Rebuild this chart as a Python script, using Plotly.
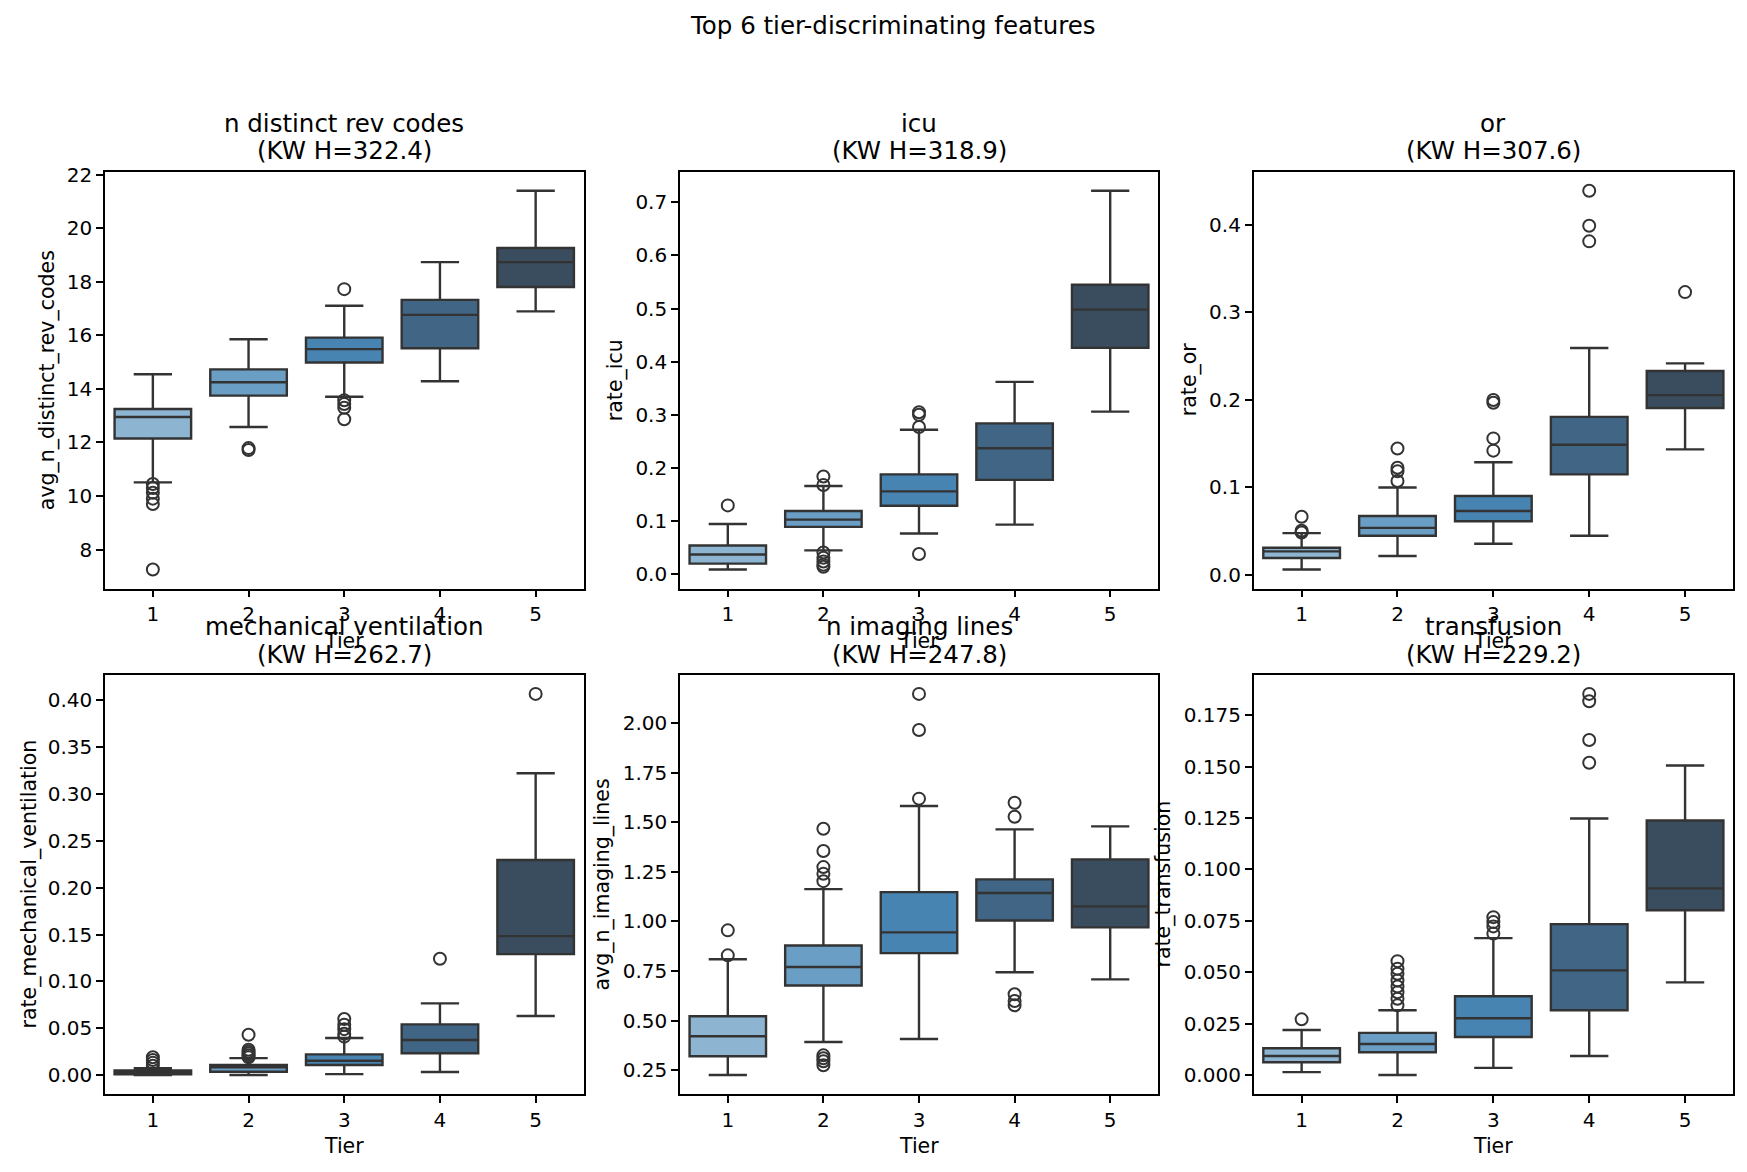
import plotly.graph_objects as go

W, H = 1747, 1172

tiers = [1, 2, 3, 4, 5]
tier_colors = ["#8db4d0", "#6a9ec4", "#4884b2", "#416685", "#3a4d5e"]

features = ["n distinct rev codes", "icu", "or", "mechanical ventilation", "n imaging lines", "transfusion"]
kw_h = [322.4, 318.9, 307.6, 262.7, 247.8, 229.2]
y_labels = ["avg_n_distinct_rev_codes", "rate_icu", "rate_or",
            "rate_mechanical_ventilation", "avg_n_imaging_lines", "rate_transfusion"]

# --- n distinct rev codes ---
rev_lower = [10.51, 12.58, 13.71, 14.29, 16.90]
rev_q1 = [12.15, 13.75, 14.99, 15.52, 17.81]
rev_med = [12.95, 14.25, 15.49, 16.77, 18.74]
rev_q3 = [13.25, 14.73, 15.92, 17.33, 19.27]
rev_upper = [14.55, 15.86, 17.11, 18.74, 21.41]
rev_out = [[10.45, 10.3, 10.12, 9.9, 9.7, 7.25], [11.79, 11.72],
           [17.73, 13.58, 13.44, 13.3, 12.87], [], []]

# --- icu ---
icu_lower = [0.0087, 0.0448, 0.0766, 0.0934, 0.306]
icu_q1 = [0.0199, 0.089, 0.1289, 0.1775, 0.426]
icu_med = [0.037, 0.1027, 0.156, 0.237, 0.498]
icu_q3 = [0.054, 0.119, 0.188, 0.284, 0.545]
icu_upper = [0.0946, 0.166, 0.272, 0.362, 0.722]
icu_out = [[0.1295], [0.184, 0.168, 0.041, 0.031, 0.024, 0.018, 0.014],
           [0.305, 0.300, 0.277, 0.038], [], []]

# --- or ---
or_lower = [0.0057, 0.0212, 0.0352, 0.0443, 0.1431]
or_q1 = [0.0189, 0.0443, 0.0609, 0.1145, 0.1903]
or_med = [0.0265, 0.0534, 0.0727, 0.1484, 0.2051]
or_q3 = [0.0307, 0.067, 0.0897, 0.1802, 0.2327]
or_upper = [0.0473, 0.0995, 0.1283, 0.2589, 0.2414]
or_out = [[0.066, 0.05, 0.048], [0.144, 0.122, 0.118, 0.107],
          [0.1995, 0.1964, 0.1556, 0.1416], [0.4387, 0.3986, 0.3808], [0.3228]]

# --- mechanical ventilation ---
mv_lower = [0.0, 0.0, 0.001, 0.0032, 0.063]
mv_q1 = [0.0007, 0.0036, 0.0107, 0.0232, 0.1291]
mv_med = [0.003, 0.0082, 0.0153, 0.0374, 0.1483]
mv_q3 = [0.005, 0.0107, 0.0221, 0.0541, 0.2297]
mv_upper = [0.0072, 0.0181, 0.0395, 0.0765, 0.3222]
mv_out = [[0.019, 0.016, 0.013, 0.01], [0.043, 0.027, 0.025, 0.023, 0.021, 0.019],
          [0.0598, 0.0537, 0.049, 0.044, 0.041], [0.1242], [0.407]]

# --- n imaging lines ---
img_lower = [0.2256, 0.392, 0.407, 0.744, 0.708]
img_q1 = [0.32, 0.677, 0.840, 1.005, 0.970]
img_med = [0.421, 0.770, 0.945, 1.143, 1.076]
img_q3 = [0.5217, 0.879, 1.148, 1.212, 1.313]
img_upper = [0.809, 1.163, 1.582, 1.464, 1.479]
img_out = [[0.955, 0.829], [1.467, 1.355, 1.274, 1.24, 1.203, 0.325, 0.31, 0.295, 0.275],
           [2.147, 1.965, 1.619], [1.598, 1.528, 0.633, 0.599, 0.577], []]

# --- transfusion ---
tr_lower = [0.0014, 0.0, 0.0035, 0.0093, 0.0451]
tr_q1 = [0.0062, 0.0111, 0.0185, 0.0315, 0.0802]
tr_med = [0.0093, 0.0151, 0.0276, 0.0509, 0.0908]
tr_q3 = [0.013, 0.0205, 0.0383, 0.0734, 0.1238]
tr_upper = [0.0219, 0.0315, 0.0666, 0.1248, 0.1506]
tr_out = [[0.0271], [0.0554, 0.0517, 0.0493, 0.046, 0.0431, 0.0403, 0.0371, 0.0339],
          [0.0768, 0.0744, 0.0723, 0.0688], [0.1854, 0.1818, 0.163, 0.1519], []]

# y tick values
rev_ticks = [8, 10, 12, 14, 16, 18, 20, 22]
icu_ticks = [0.0, 0.1, 0.2, 0.3, 0.4, 0.5, 0.6, 0.7]
or_ticks = [0.0, 0.1, 0.2, 0.3, 0.4]
mv_ticks = [0.0, 0.05, 0.10, 0.15, 0.20, 0.25, 0.30, 0.35, 0.40]
img_ticks = [0.25, 0.50, 0.75, 1.00, 1.25, 1.50, 1.75, 2.00]
tr_ticks = [0.0, 0.025, 0.05, 0.075, 0.1, 0.125, 0.15, 0.175]

panels = [
    (rev_lower, rev_q1, rev_med, rev_q3, rev_upper, rev_out, rev_ticks, "{:.0f}"),
    (icu_lower, icu_q1, icu_med, icu_q3, icu_upper, icu_out, icu_ticks, "{:.1f}"),
    (or_lower, or_q1, or_med, or_q3, or_upper, or_out, or_ticks, "{:.1f}"),
    (mv_lower, mv_q1, mv_med, mv_q3, mv_upper, mv_out, mv_ticks, "{:.2f}"),
    (img_lower, img_q1, img_med, img_q3, img_upper, img_out, img_ticks, "{:.2f}"),
    (tr_lower, tr_q1, tr_med, tr_q3, tr_upper, tr_out, tr_ticks, "{:.3f}"),
]

# layout geometry in pixels (left, right) and (top, bottom)
col_px = [(105, 583.5), (680, 1158), (1253.7, 1733)]
row_px = [(164, 584), (671, 1093.5)]
ylab_px = [47, 615, 1189, 29, 602, 1163]

FONT = "DejaVu Sans"
LINE = "#333333"
INK = "#000000"

fig = go.Figure()
annotations = []
layout_axes = {}

for i, (lo, q1, md, q3, up, outs, yt, fmt) in enumerate(panels):
    r, c = divmod(i, 3)
    n = i + 1
    xa = "x" if n == 1 else f"x{n}"
    ya = "y" if n == 1 else f"y{n}"
    for t in range(5):
        fig.add_trace(go.Box(
            x=[tiers[t]], q1=[q1[t]], median=[md[t]], q3=[q3[t]],
            lowerfence=[lo[t]], upperfence=[up[t]],
            width=0.8, whiskerwidth=0.5, boxpoints=False,
            fillcolor=tier_colors[t], line=dict(color=LINE, width=2.4),
            xaxis=xa, yaxis=ya, showlegend=False, hoverinfo="skip",
        ))
        if outs[t]:
            fig.add_trace(go.Scatter(
                x=[tiers[t]] * len(outs[t]), y=outs[t], mode="markers",
                marker=dict(symbol="circle-open", size=12, color=LINE, line=dict(width=2)),
                xaxis=xa, yaxis=ya, showlegend=False, hoverinfo="skip",
            ))
    allv = lo + up + [v for o in outs for v in o]
    vmin, vmax = min(allv), max(allv)
    pad = 0.05 * (vmax - vmin)
    (xl, xr) = col_px[c]
    (yt_px, yb_px) = row_px[r]
    axis_common = dict(
        showline=True, mirror=True, linecolor=INK, linewidth=1.6,
        ticks="outside", ticklen=7, tickwidth=1.6, tickcolor=INK,
        showgrid=False, zeroline=False,
        tickfont=dict(family=FONT, size=20, color=INK),
    )
    layout_axes["xaxis" if n == 1 else f"xaxis{n}"] = dict(
        domain=[xl / W, xr / W], anchor=ya, range=[0.5, 5.5],
        tickvals=tiers, ticktext=[str(t) for t in tiers], **axis_common)
    layout_axes["yaxis" if n == 1 else f"yaxis{n}"] = dict(
        domain=[1 - yb_px / H, 1 - yt_px / H], anchor=xa,
        range=[vmin - pad, vmax + pad],
        tickvals=yt, ticktext=[fmt.format(v) for v in yt], **axis_common)

    xc = (xl + xr) / 2 / W
    # subplot title (two lines)
    annotations.append(dict(text=features[i], x=xc, y=1 - (yt_px - 49) / H,
                            xref="paper", yref="paper", showarrow=False,
                            xanchor="center", yanchor="middle",
                            font=dict(family=FONT, size=24.5, color=INK)))
    annotations.append(dict(text=f"(KW H={kw_h[i]:.1f})", x=xc, y=1 - (yt_px - 21) / H,
                            xref="paper", yref="paper", showarrow=False,
                            xanchor="center", yanchor="middle",
                            font=dict(family=FONT, size=24.5, color=INK)))
    # x axis title
    annotations.append(dict(text="Tier", x=xc, y=1 - (yb_px + 52.5) / H,
                            xref="paper", yref="paper", showarrow=False,
                            xanchor="center", yanchor="middle",
                            font=dict(family=FONT, size=20.5, color=INK)))
    # y axis title
    annotations.append(dict(text=y_labels[i], x=ylab_px[i] / W, y=1 - (yt_px + yb_px) / 2 / H,
                            xref="paper", yref="paper", showarrow=False, textangle=-90,
                            xanchor="center", yanchor="middle",
                            font=dict(family=FONT, size=20.5, color=INK)))

annotations.append(dict(text="Top 6 tier-discriminating features", x=893 / W, y=1 - 17 / H,
                        xref="paper", yref="paper", showarrow=False,
                        xanchor="center", yanchor="middle",
                        font=dict(family=FONT, size=24.5, color=INK)))

fig.update_layout(
    width=W, height=H, margin=dict(l=0, r=0, t=0, b=0),
    paper_bgcolor="white", plot_bgcolor="white",
    boxmode="overlay", showlegend=False,
    annotations=annotations, **layout_axes,
)

fig.write_html("out.html", config={"displayModeBar": False},
               post_script="document.body.style.margin='0px';")
